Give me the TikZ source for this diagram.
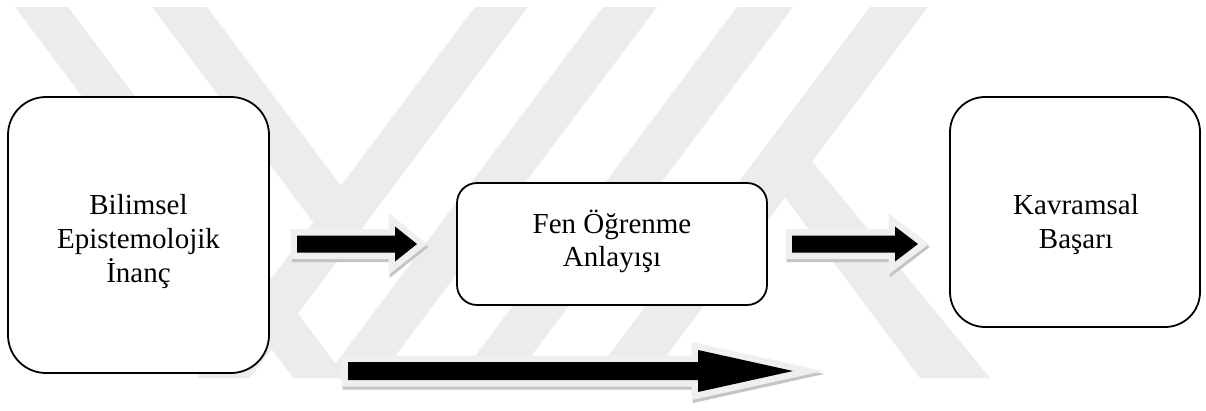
\documentclass[tikz,border=0pt]{standalone}
\usepackage{fontspec}
\setmainfont{Liberation Serif}
\definecolor{wmgray}{RGB}{236,236,236}
\definecolor{glowc}{RGB}{239,239,239}
\definecolor{shadc}{RGB}{196,196,196}
\newcommand{\blockarrow}[6]{% x0, xbase, xtip, ymid, shaft half, head half
  \def\arrpath{(#1,#4-#5) -- (#2,#4-#5) -- (#2,#4-#6) -- (#3,#4) -- (#2,#4+#6) -- (#2,#4+#5) -- (#1,#4+#5) -- cycle}
  \filldraw[shadc, line width=13pt, line join=miter, miter limit=10, xshift=1pt, yshift=-3pt] \arrpath;
  \filldraw[glowc, line width=13pt, line join=miter, miter limit=10] \arrpath;
  \fill[black] \arrpath;
}
\begin{document}
\begin{tikzpicture}[x=1pt,y=-1pt,
  box/.style={draw=black, line width=1.8pt, fill=white, inner sep=0pt},
  txt/.style={anchor=base, inner sep=0pt, font=\fontsize{29}{33}\selectfont}]
\useasboundingbox (0,0) rectangle (1206,410);
\fill[white] (0,0) rectangle (1206,410);
% watermark
\begin{scope}
  \clip (0,7) rectangle (1206,378);
  \fill[wmgray] (15,7) -- (68,7) -- (346.25,378) -- (293.25,378) -- cycle;
  \fill[wmgray] (152,7) -- (207,7) -- (341,186) -- (340,258) -- cycle;
  \fill[wmgray] (475,7) -- (528,7) -- (249.75,378) -- (196.75,378) -- cycle;
  \fill[wmgray] (603,7) -- (657,7) -- (378.75,378) -- (324.75,378) -- cycle;
  \fill[wmgray] (737,7) -- (793,7) -- (514.75,378) -- (458.75,378) -- cycle;
  \fill[wmgray] (870,7) -- (928,7) -- (649.75,378) -- (591.75,378) -- cycle;
  \fill[wmgray] (757,160) -- (811,160) -- (990,378) -- (920,378) -- cycle;
\end{scope}
% boxes
\node[box, rounded corners=38pt, minimum width=261pt, minimum height=276pt] (b1) at (138.5,235) {};
\node[box, rounded corners=20pt, minimum width=310pt, minimum height=122pt] (b2) at (612,244) {};
\node[box, rounded corners=35pt, minimum width=250pt, minimum height=230pt] (b3) at (1075,212) {};
% arrows
\blockarrow{297}{395}{417}{244}{8.5}{17.5}
\blockarrow{792}{895}{918}{244}{8.5}{17.5}
\blockarrow{348}{698}{793}{371}{9}{21}
% texts
\node[txt] (t1a) at (138.5,214) {Bilimsel};
\node[txt] (t1b) at (138.5,248) {Epistemolojik};
\node[txt] (t1c) at (138.5,282) {İnanç};
\node[txt] (t2a) at (612,233) {Fen Öğrenme};
\node[txt] (t2b) at (612,266) {Anlayışı};
\node[txt] (t3a) at (1076,214) {Kavramsal};
\node[txt] (t3b) at (1076,248) {Başarı};
\end{tikzpicture}
\end{document}
